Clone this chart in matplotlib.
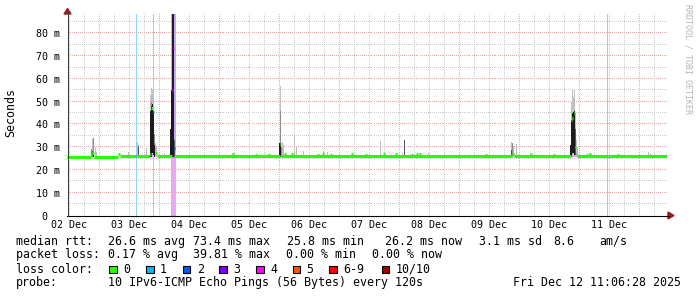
import matplotlib
matplotlib.use('Agg')
import matplotlib.pyplot as plt
import matplotlib.dates as mdates
from matplotlib.patches import Rectangle, Polygon
from matplotlib.lines import Line2D
from matplotlib.transforms import blended_transform_factory
import numpy as np
from datetime import datetime, timedelta

W, H = 697, 297
start = datetime(2025, 12, 2, 11, 6, 28)
end = start + timedelta(days=10)

## median rtt, as segments: hours since graph start, ms, loss count (of 10)
med_from = [0.0, 9.6, 10.0, 10.8, 20.4, 21.2, 27.6, 28.0, 33.2, 33.6, 34.4, 35.2, 36.0,
            41.8, 42.2, 42.6, 43.0, 85.2, 85.6, 178.0, 178.8, 201.6, 202.0, 202.8,
            203.2, 203.6, 204.0, 216.0, 216.4]
med_to   = [9.6, 10.0, 10.8, 20.4, 21.2, 27.6, 28.0, 33.2, 33.6, 34.4, 34.8, 36.0, 41.8,
            42.2, 42.6, 43.0, 85.2, 85.6, 178.0, 178.8, 201.6, 202.0, 202.4, 203.2,
            203.6, 204.0, 216.0, 216.4, 240.0]
med_ms   = [25.8, 26.4, 27.3, 25.8, 27.0, 26.2, 26.2, 26.2, 27.2, 47.0, 45.5, 27.3, 26.2,
            55.0, 73.4, 29.5, 26.2, 31.5, 26.2, 27.0, 26.2, 42.0, 43.0, 45.0,
            30.0, 27.0, 26.2, 26.2, 26.2]
med_loss = [0, 0, 0, 0, 0, 0, 1, 0, 0, 0, 1, 0, 0,
            4, 4, 2, 0, 0, 0, 0, 0, 0, 0, 0,
            0, 0, 0, 1, 0]

## small wiggles of the median line
bump_h  = [65.9, 75.2, 80.4, 86.8, 89.6, 100.0, 102.0, 105.2, 113.6, 119.2, 126.4,
           131.2, 137.6, 139.6, 140.8, 167.2, 185.2, 194.4, 207.6, 208.8, 219.9]
bump_ms = [26.8, 26.7, 26.7, 26.8, 26.8, 26.7, 26.8, 26.7, 26.8, 26.7, 26.8,
           26.8, 26.7, 26.8, 26.8, 26.7, 26.8, 26.7, 26.7, 26.8, 26.7]

## smoke (ping spread): hour, low ms, high ms, shade 0=light .. 3=black
smoke_h  = [9.6, 10.0, 10.0, 10.4, 10.4, 11.2, 11.6,
            24.4, 28.0, 28.4, 28.4, 31.6,
            33.2, 33.2, 33.6, 33.6, 33.6, 34.0, 34.0, 34.4, 34.4, 34.8, 34.8, 35.2, 35.6,
            38.8, 41.2, 41.6, 42.0, 42.4, 42.8, 43.2,
            84.8, 85.2, 85.2, 85.2, 85.6, 86.0, 86.4, 90.6, 91.6, 94.4, 102.2, 103.8,
            125.0, 134.0, 134.8, 144.4,
            177.6, 177.6, 178.0, 178.4, 179.6,
            201.2, 201.6, 201.6, 202.0, 202.0, 202.4, 202.4, 202.8, 202.8,
            203.2, 203.2, 203.6, 204.0, 232.4, 233.2]
smoke_lo = [26.0, 26.0, 26.0, 26.0, 26.0, 26.0, 26.0,
            26.2, 26.2, 26.2, 27.0, 26.2,
            26.2, 26.2, 26.2, 27.0, 26.2, 26.2, 28.0, 26.2, 27.0, 26.2, 26.2, 26.2, 26.2,
            26.2, 26.2, 26.2, 26.2, 26.2, 26.2, 26.2,
            26.2, 26.2, 30.0, 26.2, 26.2, 26.2, 26.2, 26.2, 26.2, 26.2, 26.2, 26.2,
            26.2, 26.2, 26.2, 26.2,
            26.2, 26.2, 26.2, 26.2, 26.2,
            26.2, 26.2, 26.2, 26.2, 28.0, 26.2, 28.0, 26.2, 27.0,
            26.2, 27.0, 26.2, 26.2, 26.2, 26.2]
smoke_hi = [29.0, 33.5, 28.5, 34.0, 28.0, 30.0, 28.0,
            28.0, 32.3, 31.0, 30.0, 29.5,
            53.0, 46.0, 56.0, 50.0, 48.0, 55.0, 49.0, 52.0, 46.0, 36.0, 31.0, 31.7, 30.0,
            27.5, 38.0, 55.0, 88.5, 88.5, 33.0, 28.0,
            31.8, 57.0, 46.0, 31.8, 30.0, 32.3, 31.0, 35.2, 30.3, 28.3, 28.3, 27.8,
            32.7, 27.5, 33.0, 27.6,
            32.3, 28.6, 31.8, 30.5, 31.5,
            31.0, 50.0, 42.0, 55.0, 45.0, 52.0, 45.5, 55.0, 46.0,
            45.0, 38.0, 33.0, 30.0, 27.8, 27.5]
smoke_shade = [1, 0, 2, 1, 3, 0, 0,
               0, 0, 1, 2, 0,
               0, 3, 0, 1, 3, 0, 3, 0, 3, 1, 3, 0, 0,
               0, 3, 3, 3, 3, 2, 0,
               3, 0, 1, 3, 1, 0, 0, 0, 0, 0, 0, 0,
               0, 0, 2, 0,
               0, 2, 1, 0, 0,
               3, 0, 3, 0, 3, 0, 3, 0, 3,
               0, 2, 0, 0, 0, 0]

## full height loss background
loss_bg_h = [27.6, 34.4, 216.0]
band_h = [41.4, 43.4]

loss_labels = ['0', '1', '2', '3', '4', '5', '6-9', '10/10']
loss_colors = ['#26ff00', '#00b8ff', '#0059ff', '#7e00ff', '#ff00ff', '#ff5500', '#ff0000', '#a10000']

rtt_texts = ['26.6 ms avg', '73.4 ms max', '25.8 ms min', '26.2 ms now', '3.1 ms sd', '8.6', 'am/s']
rtt_x = [107.7, 193.3, 286.7, 385.0, 479.0, 553.3, 599.3]
loss_texts = ['0.17 % avg', '39.81 % max', '0.00 % min', '0.00 % now']
loss_x = [107.7, 193.3, 286.0, 372.3]
probe_text = '10 IPv6-ICMP Echo Pings (56 Bytes) every 120s'
stamp_text = 'Fri Dec 12 11:06:28 2025'

mono = 'DejaVu Sans Mono'
shades = ['#c0c0c0', '#8c8c8c', '#555555', '#1c1c1c']
grid_grey = '#cdcdcd'
grid_red = '#e6aaaa'
arrow_col = '#9a1c1c'


def T(hours):
  return np.array([mdates.date2num(start + timedelta(hours=float(h))) for h in np.atleast_1d(hours)])


def lcol(n):
  if n >= 10:
    return loss_colors[7]
  if n >= 6:
    return loss_colors[6]
  return loss_colors[n]


def fx(x):
  return x / W


def fy(y):
  return 1 - y / H


fig = plt.figure(figsize=(W / 100, H / 100), dpi=100)
fig.patch.set_facecolor('white')
ax = fig.add_axes([fx(67), fy(215.5), 600 / W, 201.5 / H])
x0, x1 = T(0)[0], T(240)[0]
ax.set_xlim(x0, x1)
ax.set_ylim(0, 88.5)
for s in ax.spines.values():
  s.set_visible(False)

## dotted grid, one pixel on / one pixel off
day_locs = mdates.DayLocator().tick_values(mdates.num2date(x0), mdates.num2date(x1))
six_locs = mdates.HourLocator(byhour=[6, 12, 18]).tick_values(mdates.num2date(x0), mdates.num2date(x1))
day_locs = [v for v in day_locs if x0 < v < x1]
six_locs = [v for v in six_locs if x0 < v < x1]
dots_x = np.arange(0.5, 600, 2) / 600.0
dots_y = np.arange(0.5, 201, 2) / 201.5
tx = blended_transform_factory(ax.transAxes, ax.transData)
ty = blended_transform_factory(ax.transData, ax.transAxes)
for v in range(5, 88, 10):
  ax.plot(dots_x, np.full(dots_x.size, v), ',', color=grid_grey, transform=tx, zorder=0.5)
for v in range(10, 81, 10):
  ax.plot(dots_x, np.full(dots_x.size, v), ',', color=grid_red, transform=tx, zorder=0.5)
for v in six_locs:
  ax.plot(np.full(dots_y.size, v), dots_y, ',', color=grid_grey, transform=ty, zorder=0.5)
for v in day_locs:
  ax.plot(np.full(dots_y.size, v), dots_y, ',', color=grid_red, transform=ty, zorder=0.5)

## tick labels
ax.set_xticks([])
ax.set_yticks(np.arange(0, 81, 10))
ax.set_yticklabels(['0  '] + ['%d m' % v for v in range(10, 81, 10)], family=mono, fontsize=7.2)
ax.tick_params(which='both', length=0)
ax.tick_params(axis='y', pad=5.0)

sec = ax.secondary_xaxis('bottom')
sec.xaxis.set_major_locator(mdates.HourLocator(byhour=12))
sec.xaxis.set_major_formatter(mdates.DateFormatter('%d %b'))
sec.tick_params(length=0, pad=3.0)
sec.spines['bottom'].set_visible(False)
for lab in sec.get_xticklabels():
  lab.set_family(mono)
  lab.set_fontsize(7.2)

## loss background
for h in loss_bg_h:
  ax.axvline(T(h)[0], color='#8fd6f5', linewidth=0.72, antialiased=False, zorder=1)
ax.axvspan(T(band_h[0])[0], T(band_h[1])[0], color='#c6a6ff', linewidth=0, zorder=1)
ax.fill_between(T(band_h), 0, 25.0, color='#eaa8f4', linewidth=0, zorder=1)

## smoke
ax.vlines(T(smoke_h), smoke_lo, smoke_hi, colors=[shades[s] for s in smoke_shade],
          linewidth=0.72, antialiased=False, zorder=2)

## median
ax.hlines(med_ms, T(med_from), T(med_to), colors=[lcol(n) for n in med_loss],
          linewidth=2.2, zorder=3)
ax.hlines(bump_ms, T(bump_h), T(np.array(bump_h) + 0.8), colors=loss_colors[0],
          linewidth=2.2, zorder=3)

## axes with arrows
fig.add_artist(Line2D([fx(67), fx(669)], [fy(215.5), fy(215.5)], color='black', linewidth=0.8))
fig.add_artist(Line2D([fx(67.5), fx(67.5)], [fy(215.5), fy(12)], color='#404040', linewidth=0.8))
fig.add_artist(Polygon([[fx(64), fy(14)], [fx(71), fy(14)], [fx(67.5), fy(8.5)]], closed=True,
                       color=arrow_col, transform=fig.transFigure))
fig.add_artist(Polygon([[fx(668), fy(212)], [fx(668), fy(219)], [fx(674), fy(215.5)]], closed=True,
                       color=arrow_col, transform=fig.transFigure))

## labels
fig.text(fx(10.7), fy(113), 'Seconds', rotation=90, ha='center', va='center', family=mono, fontsize=8.4)
fig.text(fx(688.3), fy(59), 'RRDTOOL / TOBI OETIKER', rotation=270, ha='center', va='center',
         family=mono, fontsize=6, color='#b4b4b4')

## legend block
fs = 8.4
base = [245.0, 258.3, 272.7, 286.0]
fig.text(fx(16), fy(base[0]), 'median rtt:', family=mono, fontsize=fs, va='baseline')
for t, x in zip(rtt_texts, rtt_x):
  fig.text(fx(x), fy(base[0]), t, family=mono, fontsize=fs, va='baseline')
fig.text(fx(16), fy(base[1]), 'packet loss:', family=mono, fontsize=fs, va='baseline')
for t, x in zip(loss_texts, loss_x):
  fig.text(fx(x), fy(base[1]), t, family=mono, fontsize=fs, va='baseline')
fig.text(fx(16), fy(base[2]), 'loss color:', family=mono, fontsize=fs, va='baseline')
sq_x = [109.3, 146.0, 182.7, 219.3, 256.0, 292.7, 329.3, 381.7]
for lab, col, x in zip(loss_labels, loss_colors, sq_x):
  fig.add_artist(Rectangle((fx(x), fy(273.3)), 7.5 / W, 7.5 / H, facecolor=col, edgecolor='black',
                           linewidth=0.8, transform=fig.transFigure))
  fig.text(fx(x + 14), fy(base[2]), lab, family=mono, fontsize=fs, va='baseline')
fig.text(fx(16), fy(base[3]), 'probe:', family=mono, fontsize=fs, va='baseline')
fig.text(fx(107.7), fy(base[3]), probe_text, family=mono, fontsize=fs, va='baseline')
fig.text(fx(513.3), fy(base[3]), stamp_text, family=mono, fontsize=fs, va='baseline')

fig.savefig('out.png', dpi=100, facecolor='white')
